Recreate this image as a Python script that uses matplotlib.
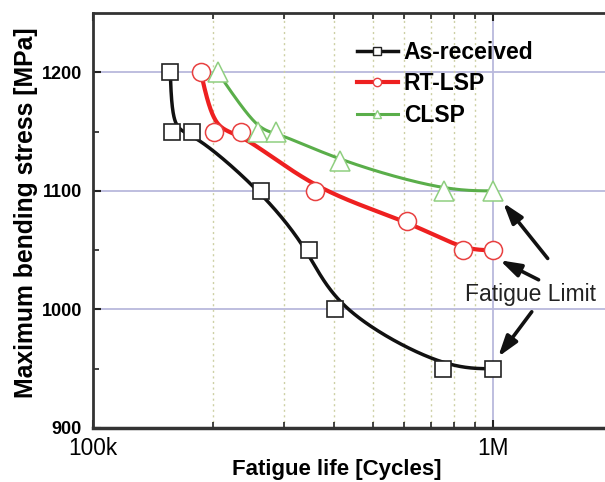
import numpy as np
import matplotlib
matplotlib.use("Agg")
import matplotlib.pyplot as plt
from matplotlib.ticker import FixedLocator, NullFormatter

plt.rcParams['font.family'] = ['Liberation Sans', 'DejaVu Sans']

# ---- data ----
as_received_x = [156e3, 158e3, 177e3, 263e3, 347e3, 403e3, 750e3, 1.0e6]
as_received_y = [1200, 1150, 1150, 1100, 1050, 1000, 950, 950]

rt_lsp_x = [186e3, 201e3, 234e3, 359e3, 610e3, 841e3, 1.0e6]
rt_lsp_y = [1200, 1150, 1150, 1100, 1075, 1050, 1050]

clsp_x = [205e3, 259e3, 287e3, 414e3, 755e3, 1.0e6]
clsp_y = [1200, 1150, 1150, 1125, 1100, 1100]

series_labels = ['As-received', 'RT-LSP', 'CLSP']
x_tick_vals = [1e5, 1e6]
x_tick_labels = ['100k', '1M']
y_tick_vals = [900, 1000, 1100, 1200]
y_tick_labels = ['900', '1000', '1100', '1200']


def smooth(xs, ys, n=60):
    """Uniform cubic B-spline using the data points as control points (ends clamped),
    computed in a display-like space (log x)."""
    X = 400 * np.log10(np.asarray(xs, float))
    Y = 1.18 * np.asarray(ys, float)
    P = np.column_stack([X, Y])
    P = np.vstack([2 * P[0] - P[1], P, 2 * P[-1] - P[-2]])
    out = []
    u = np.linspace(0, 1, n)[:, None]
    b0 = (1 - u) ** 3 / 6
    b1 = (3 * u ** 3 - 6 * u ** 2 + 4) / 6
    b2 = (-3 * u ** 3 + 3 * u ** 2 + 3 * u + 1) / 6
    b3 = u ** 3 / 6
    for i in range(len(P) - 3):
        C = b0 * P[i] + b1 * P[i + 1] + b2 * P[i + 2] + b3 * P[i + 3]
        out.append(C if i == 0 else C[1:])
    C = np.vstack(out)
    return 10 ** (C[:, 0] / 400), C[:, 1] / 1.18


fig = plt.figure(figsize=(6.05, 4.82), dpi=100)
ax = fig.add_axes([93 / 605, 54 / 482, 520.4 / 605, 415 / 482])
ax.set_xscale('log')
ax.set_xlim(1e5, 2e6)
ax.set_ylim(900, 1250)

# grid
for v in [1000, 1100, 1200]:
    ax.axhline(v, color='#b9b9dc', lw=1.3, zorder=1)
ax.axvline(1e6, color='#b9b9dc', lw=1.3, zorder=1)
for m in range(2, 10):
    ax.axvline(m * 1e5, color='#cdd0a4', lw=1.0, ls=(0, (1.5, 2.5)), zorder=1)

styles = [
    dict(color='#111111', lw=2.5, marker='s', ms=12, mec='#222222', mfc='white', mew=1.2),
    dict(color='#ee2020', lw=3.0, marker='o', ms=13, mec='#e84040', mfc='white', mew=1.1),
    dict(color='#5aae4a', lw=2.2, marker='^', ms=14, mec='#8fcf80', mfc='white', mew=1.1),
]
data = [(as_received_x, as_received_y), (rt_lsp_x, rt_lsp_y), (clsp_x, clsp_y)]
handles = []
for (xs, ys), st, lab in zip(data, styles, series_labels):
    sx, sy = smooth(xs, ys)
    ax.plot(sx, sy, color=st['color'], lw=st['lw'], zorder=3, solid_capstyle='round')
    ax.plot(xs, ys, ls='none', marker=st['marker'], ms=st['ms'], mec=st['mec'],
            mfc=st['mfc'], mew=st['mew'], zorder=4)
    h, = ax.plot([], [], color=st['color'], lw=st['lw'], marker=st['marker'], ms=6,
                 mec=st['mec'], mfc=st['mfc'], mew=1.0, label=lab)
    handles.append(h)

leg = ax.legend(handles=handles, loc='upper left', bbox_to_anchor=(0.507, 0.933),
                frameon=False, handlelength=1.8, handletextpad=0.25, labelspacing=0.37,
                borderpad=0, borderaxespad=0,
                prop=dict(family='Liberation Sans', weight='bold', size=16.5))

# ticks
ax.xaxis.set_major_locator(FixedLocator(x_tick_vals))
ax.set_xticklabels(x_tick_labels)
ax.xaxis.set_minor_locator(FixedLocator([m * 1e5 for m in range(2, 10)] + [2e6]))
ax.xaxis.set_minor_formatter(NullFormatter())
ax.yaxis.set_major_locator(FixedLocator(y_tick_vals))
ax.set_yticklabels(y_tick_labels)
ax.yaxis.set_minor_locator(FixedLocator([950, 1050, 1150]))
ax.tick_params(which='both', direction='in', top=True, right=False, color='#222222')
ax.tick_params(which='major', length=6, width=1.5)
ax.tick_params(which='minor', length=4, width=1.2)
ax.tick_params(axis='x', which='major', labelsize=16.3, pad=6.5)
ax.tick_params(axis='y', which='major', labelsize=13, pad=8)
for t in ax.get_yticklabels():
    t.set_fontweight('bold')

for s in ['left', 'bottom', 'top']:
    ax.spines[s].set_color('#333333')
ax.spines['left'].set_linewidth(2.0)
ax.spines['bottom'].set_linewidth(2.5)
ax.spines['top'].set_linewidth(2.0)

ax.set_xlabel('Fatigue life [Cycles]', fontsize=16, fontweight='bold')
ax.xaxis.set_label_coords(0.469, -0.0747)
ax.set_ylabel('Maximum bending stress [MPa]', fontsize=17.8, fontweight='bold')
ax.yaxis.set_label_coords(-0.1057, 0.518)

# annotations
ax.text(1.24e6, 1013, 'Fatigue Limit', fontsize=16.5, ha='center', va='center', color='#222222', zorder=6)
arrow_kw = dict(arrowstyle='-|>,head_length=1.25,head_width=0.4', color='#111111', lw=2.6,
                shrinkA=0, shrinkB=0)
ax.annotate('', xy=(1.06e6, 1090), xytext=(1.37e6, 1043), arrowprops=arrow_kw, zorder=6)
ax.annotate('', xy=(1.04e6, 1041.5), xytext=(1.30e6, 1025), arrowprops=arrow_kw, zorder=6)
ax.annotate('', xy=(1.03e6, 960), xytext=(1.25e6, 998), arrowprops=arrow_kw, zorder=6)

fig.savefig('out.png', dpi=100)
